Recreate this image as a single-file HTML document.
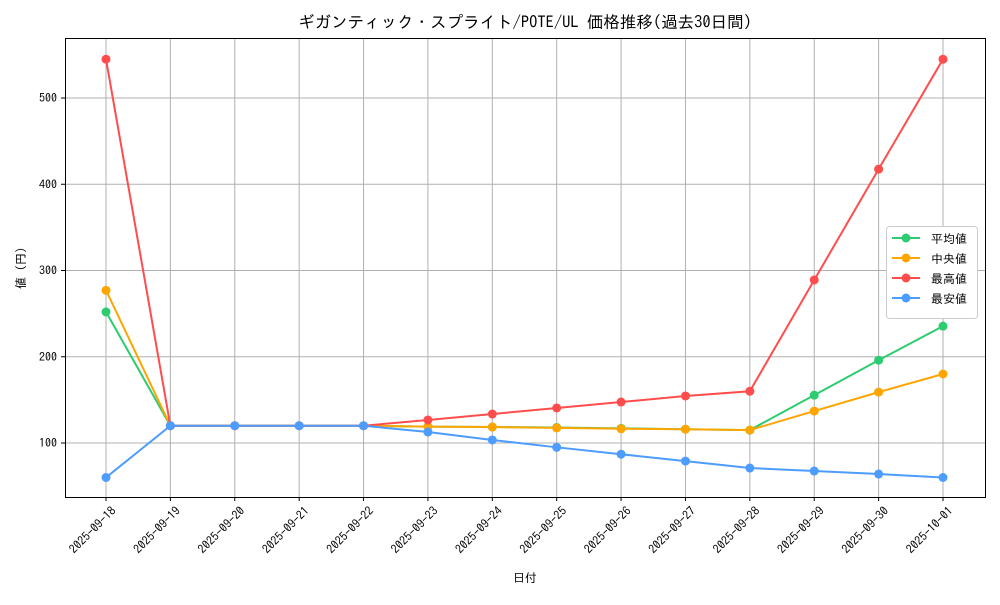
<!DOCTYPE html>
<html><head><meta charset="utf-8"><style>
body{margin:0;background:#fff;}
svg text{font-family:"IPAGothic","Noto Sans CJK JP",monospace;fill:#000;}
</style></head><body>
<svg width="1000" height="600" xmlns="http://www.w3.org/2000/svg">
<rect width="1000" height="600" fill="#fff"/>
<g id="grid" stroke="#b0b0b0" stroke-width="1"></g>
<rect x="65.5" y="38.5" width="920" height="459" fill="none" stroke="#000" stroke-width="1"/>
<g id="ticks"></g>
<g id="series"></g>
<text x="525" y="28" font-size="16.5" text-anchor="middle">ギガンティック・スプライト/POTE/UL 価格推移(過去30日間)</text>
<text x="525" y="582" font-size="12" text-anchor="middle">日付</text>
<text transform="translate(25,268) rotate(-90)" font-size="12" text-anchor="middle">値 (円)</text>
<g>
<rect x="886.5" y="226.5" width="91" height="92" rx="3" fill="#fff" stroke="#ccc"/>
<line x1="892" y1="238" x2="920" y2="238" stroke="#2ecc71" stroke-width="2"/><circle cx="906" cy="238" r="4.5" fill="#2ecc71"/><text x="931" y="243" font-size="12">平均値</text>
<line x1="892" y1="258" x2="920" y2="258" stroke="#ffa500" stroke-width="2"/><circle cx="906" cy="258" r="4.5" fill="#ffa500"/><text x="931" y="263" font-size="12">中央値</text>
<line x1="892" y1="278" x2="920" y2="278" stroke="#ff4d4d" stroke-width="2"/><circle cx="906" cy="278" r="4.5" fill="#ff4d4d"/><text x="931" y="283" font-size="12">最高値</text>
<line x1="892" y1="298" x2="920" y2="298" stroke="#4d9cff" stroke-width="2"/><circle cx="906" cy="298" r="4.5" fill="#4d9cff"/><text x="931" y="303" font-size="12">最安値</text>
</g>
</svg>
<script>
const ns="http://www.w3.org/2000/svg";
const X=i=>106+i*(943-106)/13, Y=v=>443-(v-100)*0.8625;
const g=document.getElementById('grid'),t=document.getElementById('ticks'),s=document.getElementById('series');
function el(p,n,a,txt){const e=document.createElementNS(ns,n);for(const k in a)e.setAttribute(k,a[k]);if(txt)e.textContent=txt;p.appendChild(e);return e;}
const dates=["2025-09-18","2025-09-19","2025-09-20","2025-09-21","2025-09-22","2025-09-23","2025-09-24","2025-09-25","2025-09-26","2025-09-27","2025-09-28","2025-09-29","2025-09-30","2025-10-01"];
dates.forEach((d,i)=>{const x=X(i);el(g,'line',{x1:x,y1:38,x2:x,y2:497});el(t,'line',{x1:x,y1:497,x2:x,y2:501,stroke:'#000'});
el(t,'text',{transform:`translate(${x+5},${506}) rotate(-45)`,'font-size':12,'text-anchor':'end','dominant-baseline':'hanging'},d);});
[100,200,300,400,500].forEach(v=>{const y=Y(v);el(g,'line',{x1:65,y1:y,x2:985,y2:y});el(t,'line',{x1:61,y1:y,x2:65,y2:y,stroke:'#000'});el(t,'text',{x:57,y:y+4,'font-size':12,'text-anchor':'end'},v);});
const data=[
["#2ecc71",[252,120,120,120,120,119,118.5,118,117,116,115,155.5,196,235.5]],
["#ffa500",[277,120,120,120,120,119,118.5,117.5,116.5,116,115,137,159,180]],
["#ff4d4d",[545,120,120,120,120,126.7,133.6,140.6,147.5,154.5,160,289,417.5,545]],
["#4d9cff",[60,120,120,120,120,112.7,103.5,95,87,79,71,67.5,64,60]]];
data.forEach(([c,v])=>{el(s,'polyline',{points:v.map((y,i)=>X(i)+','+Y(y)).join(' '),fill:'none',stroke:c,'stroke-width':2});
v.forEach((y,i)=>el(s,'circle',{cx:X(i),cy:Y(y),r:4.5,fill:c}));});
</script>
</body></html>
